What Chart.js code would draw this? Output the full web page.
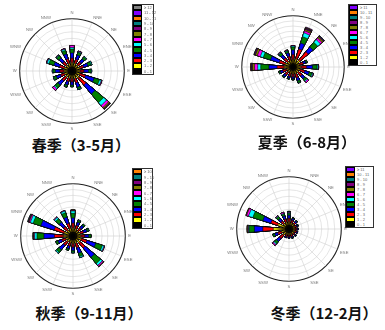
<!DOCTYPE html>
<html>
<head>
<meta charset="utf-8">
<script src="https://cdn.jsdelivr.net/npm/chart.js@4.4.1/dist/chart.umd.min.js"></script>
<style>
  html, body { margin: 0; padding: 0; background: #fff; }
  body { position: relative; width: 385px; height: 330px; overflow: hidden; }
  canvas { position: absolute; }
  .cap { position: absolute; font-family: "Noto Sans CJK SC", sans-serif; font-weight: bold;
         font-size: 15px; line-height: 1; white-space: nowrap; color: #111;
         transform: translate(-50%, -50%); }
  .legend { position: absolute; border: 1px solid #333; background: #fff; box-sizing: border-box; }
  .legend .row { display: flex; align-items: stretch; }
  .legend .sw { width: 9px; border: 0.5px solid #000; box-sizing: border-box; flex: none; }
  .legend .tx { font: 4px "Liberation Sans", Arial, sans-serif; color: #666; margin-left: 2px;
                display: flex; align-items: center; white-space: nowrap; }
</style>
</head>
<body>
<script>
// 16-point compass, clockwise from north; every rose has one bar per direction
const compass = ['N','NNE','NE','ENE','E','ESE','SE','SSE','S','SSW','SW','WSW','W','WNW','NW','NNW'];

// colours of the wind-speed classes (m/s), slowest first
const speedColors = ['#000000','#ffff00','#ff0000','#0000ff','#008000','#00ffff','#ff00ff',
                     '#808000','#800080','#008080','#ff8000','#8000ff','#808080'];

// ---------- spring (Mar-May): frequency % per direction, one array per speed class ----------
//                 N    NNE  NE   ENE  E    ESE  SE   SSE  S    SSW  SW   WSW  W    WNW  NW   NNW
const springClasses = ['0 - 1','1 - 2','2 - 3','3 - 4','4 - 5','5 - 6','6 - 7','7 - 8','8 - 9','9 - 10','10 - 11','11 - 12','≥ 12'];
const spr0  = [0.65,0.65,0.65,0.65,0.65,0.65,0.65,0.65,0.65,0.65,0.65,0.65,0.65,0.65,0.65,0.65];
const spr1  = [0.6, 0.6, 0.55,0.6, 0.55,0.6, 0.75,0.55,0.5, 0.5, 0.6, 0.55,0.55,0.6, 0.55,0.6];
const spr2  = [0.7, 0.6, 0.6, 0.6, 0.6, 0.9, 1.4, 0.7, 0.5, 0.55,0.7, 0.6, 0.65,0.75,0.65,0.7];
const spr3  = [0.8, 0.7, 0.6, 0.7, 0.7, 1.4, 1.8, 0.7, 0.5, 0.55,0.85,0.7, 0.7, 0.9, 0.75,0.8];
const spr4  = [0.6, 0.45,0.4, 0.5, 0.4, 0.85,1.7, 0.3, 0.25,0.3, 0.6, 0.4, 0.35,0.8, 0.45,0.55];
const spr5  = [0.25,0.1, 0.1, 0.15,0.1, 0.3, 0.6, 0.1, 0,   0.05,0.2, 0.1, 0.1, 0.3, 0.1, 0.2];
const spr6  = [0.3, 0.1, 0,   0,   0,   0.1, 0.4, 0,   0,   0,   0.3, 0,   0,   0.1, 0.05,0.1];
const spr7  = [0,   0,   0,   0,   0,   0,   0.2, 0,   0,   0,   0,   0,   0,   0,   0,   0];
const spr8  = [0,   0,   0,   0,   0,   0,   0.1, 0,   0,   0,   0,   0,   0,   0,   0,   0];
const spr9  = [0,   0,   0,   0,   0,   0,   0.05,0,   0,   0,   0,   0,   0,   0,   0,   0];
const spr10 = [0,   0,   0,   0,   0,   0,   0,   0,   0,   0,   0,   0,   0,   0,   0,   0];
const spr11 = [0,   0,   0,   0,   0,   0,   0,   0,   0,   0,   0,   0,   0,   0,   0,   0];
const spr12 = [0,   0,   0,   0,   0,   0,   0,   0,   0,   0,   0,   0,   0,   0,   0,   0];

// ---------- summer (Jun-Aug) ----------
const summerClasses = ['0 - 1','1 - 2','2 - 3','3 - 4','4 - 5','5 - 6','6 - 7','7 - 8','8 - 9','9 - 10','10 - 11','≥ 11'];
const sum0  = [0.7, 0.7, 0.7, 0.7, 0.7, 0.7, 0.7, 0.7, 0.7, 0.7, 0.7, 0.7, 0.7, 0.7, 0.7, 0.7];
const sum1  = [0.7, 1.0, 1.0, 0.6, 0.8, 0.7, 0.7, 0.7, 0.6, 0.6, 0.6, 0.6, 1.0, 0.9, 0.7, 0.7];
const sum2  = [1.0, 2.0, 2.2, 0.8, 1.1, 1.0, 0.9, 0.8, 0.6, 0.6, 0.7, 0.8, 1.4, 1.2, 0.9, 0.8];
const sum3  = [0.9, 1.2, 1.2, 0.5, 1.2, 0.9, 0.7, 0.6, 0.4, 0.4, 0.5, 0.5, 1.6, 1.8, 0.8, 0.7];
const sum4  = [0.6, 1.3, 1.2, 0.3, 0.9, 0.6, 0.5, 0.4, 0.2, 0.2, 0.2, 0.3, 1.6, 1.5, 0.5, 0.4];
const sum5  = [0.2, 0.8, 0.7, 0,   0.2, 0.2, 0.2, 0.1, 0,   0,   0,   0,   0.6, 0.6, 0.1, 0.1];
const sum6  = [0.1, 0.4, 0.4, 0,   0.1, 0.1, 0.3, 0,   0,   0,   0,   0,   0.6, 0.6, 0.1, 0.1];
const sum7  = [0,   0.3, 0.3, 0,   0,   0,   0,   0,   0,   0,   0,   0,   0.4, 0.4, 0,   0];
const sum8  = [0,   0.2, 0.2, 0,   0,   0,   0,   0,   0,   0,   0,   0,   0.2, 0.2, 0,   0];
const sum9  = [0,   0.1, 0.1, 0,   0,   0,   0,   0,   0,   0,   0,   0,   0.1, 0.1, 0,   0];
const sum10 = [0,   0.1, 0,   0,   0,   0,   0,   0,   0,   0,   0,   0,   0.1, 0,   0,   0];
const sum11 = [0,   0.1, 0,   0,   0,   0,   0,   0,   0,   0,   0,   0,   0,   0,   0,   0];

// ---------- autumn (Sep-Nov) ----------
const autumnClasses = ['0 - 1','1 - 2','2 - 3','3 - 4','4 - 5','5 - 6','6 - 7','7 - 8','8 - 9','9 - 10','≥ 10'];
const aut0  = [0.7, 0.7, 0.7, 0.7, 0.7, 0.7, 0.7, 0.7, 0.7, 0.7, 0.7, 0.7, 0.7, 0.7, 0.7, 0.7];
const aut1  = [0.7, 0.6, 0.5, 0.6, 0.6, 0.8, 0.8, 0.6, 0.6, 0.5, 0.6, 0.6, 0.9, 0.9, 0.6, 0.7];
const aut2  = [0.8, 0.6, 0.6, 0.6, 0.7, 1.0, 1.2, 0.8, 0.6, 0.6, 0.8, 0.7, 1.6, 1.8, 0.8, 0.9];
const aut3  = [0.9, 0.6, 0.6, 0.6, 0.7, 1.6, 2.1, 1.0, 0.6, 0.5, 1.0, 0.7, 1.8, 2.4, 1.0, 1.1];
const aut4  = [0.8, 0.3, 0.3, 0.3, 0.4, 1.2, 1.4, 0.6, 0.3, 0.3, 0.6, 0.4, 1.2, 1.4, 0.8, 0.8];
const aut5  = [0.4, 0.1, 0,   0.1, 0,   0.3, 0.4, 0.2, 0.1, 0,   0.2, 0,   0.4, 0.5, 0.3, 0.3];
const aut6  = [0.1, 0,   0,   0,   0,   0.1, 0.2, 0,   0,   0,   0,   0,   0.1, 0.2, 0.1, 0.1];
const aut7  = [0.1, 0,   0,   0,   0,   0,   0.1, 0,   0,   0,   0,   0,   0.1, 0.1, 0,   0];
const aut8  = [0,   0,   0,   0,   0,   0,   0,   0,   0,   0,   0,   0,   0.1, 0.1, 0,   0];
const aut9  = [0,   0,   0,   0,   0,   0,   0,   0,   0,   0,   0,   0,   0,   0.1, 0,   0];
const aut10 = [0,   0,   0,   0,   0,   0,   0,   0,   0,   0,   0,   0,   0,   0,   0,   0];

// ---------- winter (Dec-Feb) ----------
const winterClasses = ['0 - 1','1 - 2','2 - 3','3 - 4','4 - 5','5 - 6','6 - 7','7 - 8','8 - 9','9 - 10','10 - 11','≥ 11'];
const win0  = [0.6, 0.6, 0.6, 0.6, 0.6, 0.6, 0.6, 0.6, 0.6, 0.6, 0.6, 0.6, 0.6, 0.6, 0.6, 0.6];
const win1  = [0.5, 0.4, 0.4, 0.3, 0.3, 0.3, 0.3, 0.3, 0.3, 0.3, 0.6, 0.6, 1.8, 1.2, 0.5, 0.5];
const win2  = [0.5, 0.4, 0.3, 0.3, 0.3, 0.3, 0.3, 0.3, 0.3, 0.3, 0.7, 0.6, 1.6, 1.1, 0.5, 0.5];
const win3  = [0.5, 0.3, 0.3, 0.2, 0.2, 0.2, 0.2, 0.2, 0.2, 0.2, 0.6, 0.5, 1.3, 1.3, 0.5, 0.5];
const win4  = [0.3, 0.1, 0.1, 0.1, 0,   0,   0.1, 0.1, 0,   0,   0.4, 0.3, 0.8, 1.6, 0.4, 0.3];
const win5  = [0.1, 0,   0,   0,   0,   0,   0,   0,   0,   0,   0.2, 0,   0.1, 0.7, 0.1, 0.1];
const win6  = [0.1, 0,   0,   0,   0,   0,   0,   0,   0,   0,   0.2, 0,   0.1, 0.3, 0.1, 0.2];
const win7  = [0,   0,   0,   0,   0,   0,   0,   0,   0,   0,   0,   0,   0.1, 0.1, 0,   0];
const win8  = [0,   0,   0,   0,   0,   0,   0,   0,   0,   0,   0,   0,   0,   0,   0,   0];
const win9  = [0.1, 0,   0,   0,   0,   0,   0,   0,   0,   0,   0,   0,   0,   0,   0,   0];
const win10 = [0,   0,   0,   0,   0,   0,   0,   0,   0,   0,   0,   0,   0,   0,   0,   0];
const win11 = [0,   0,   0,   0,   0,   0,   0,   0,   0,   0,   0,   0,   0,   0,   0,   0];

// ---------- rose geometry ----------
const BAR_DEG = 10;                // angular width of one direction bar
const GAP_DEG = 12.5;              // empty wedge between neighbouring bars (BAR + GAP = 22.5)
const START_DEG = -BAR_DEG / 2;    // first bar centred on north
const LABEL_STEP = 0.5;            // angular resolution of the label ring

// label ring: a compass name wherever a 22.5° direction falls, blank elsewhere
const ringLabels = [];
for (let i = 0; i < 360 / LABEL_STEP; i++) {
  const a = i * LABEL_STEP + START_DEG;
  const j = a / 22.5;
  ringLabels.push(a >= 0 && Number.isInteger(j) ? compass[j] : '');
}

function buildRose(cfg) {
  const canvas = document.createElement('canvas');
  canvas.width = cfg.size;
  canvas.height = cfg.size;
  document.body.appendChild(canvas);

  // stacked rose: each class drawn out to the running total of all slower classes
  let running = cfg.series[0].map(() => 0);
  const datasets = cfg.series.map((arr, k) => {
    running = running.map((v, i) => v + arr[i]);
    return {
      label: cfg.classes[k],
      data: running.flatMap(v => [v, 0]),
      backgroundColor: speedColors[k],
      borderColor: '#000',
      borderWidth: ctx => (ctx.dataIndex % 2 ? 0 : 0.6),
      angle: ctx => (ctx.dataIndex % 2 ? GAP_DEG : BAR_DEG)
    };
  });

  const chart = new Chart(canvas, {
    type: 'polarArea',
    data: { labels: ringLabels, datasets },
    options: {
      responsive: false,
      animation: false,
      events: [],
      plugins: { legend: { display: false }, tooltip: { enabled: false } },
      scales: {
        r: {
          min: 0,
          max: cfg.max,
          startAngle: START_DEG,
          ticks: { display: false, stepSize: 1 },
          grid: {
            circular: true,
            color: ctx => (ctx.tick && ctx.tick.value === cfg.max ? '#222' : '#d4d4d4'),
            lineWidth: ctx => (ctx.tick && ctx.tick.value === cfg.max ? 1.1 : 0.6)
          },
          angleLines: {
            display: true,
            color: '#cfcfcf',
            lineWidth: ctx => (ctx.label ? 0.6 : 0)
          },
          pointLabels: {
            display: true,
            padding: 3,
            color: '#777',
            font: { size: 4.2, family: 'Liberation Sans' }
          }
        }
      }
    }
  });

  const r = chart.scales.r;
  canvas.style.left = (cfg.cx - r.xCenter) + 'px';
  canvas.style.top = (cfg.cy - r.yCenter) + 'px';
  return chart;
}

function buildLegend(cfg) {
  const box = document.createElement('div');
  box.className = 'legend';
  Object.assign(box.style, { left: cfg.x + 'px', top: cfg.y + 'px', width: cfg.w + 'px', height: cfg.h + 'px' });
  const rowH = (cfg.h - 2) / cfg.classes.length;
  for (let k = cfg.classes.length - 1; k >= 0; k--) {
    const row = document.createElement('div');
    row.className = 'row';
    row.style.height = rowH + 'px';
    const sw = document.createElement('div');
    sw.className = 'sw';
    sw.style.background = speedColors[k];
    const tx = document.createElement('div');
    tx.className = 'tx';
    tx.textContent = cfg.classes[k];
    row.appendChild(sw);
    row.appendChild(tx);
    box.appendChild(row);
  }
  document.body.appendChild(box);
}

function caption(text, cx, cy) {
  const d = document.createElement('div');
  d.className = 'cap';
  d.textContent = text;
  d.style.left = cx + 'px';
  d.style.top = cy + 'px';
  document.body.appendChild(d);
}

buildRose({ size: 124, cx: 72, cy: 71, max: 8, classes: springClasses,
  series: [spr0,spr1,spr2,spr3,spr4,spr5,spr6,spr7,spr8,spr9,spr10,spr11,spr12] });
buildRose({ size: 122, cx: 293, cy: 67, max: 10, classes: summerClasses,
  series: [sum0,sum1,sum2,sum3,sum4,sum5,sum6,sum7,sum8,sum9,sum10,sum11] });
buildRose({ size: 124, cx: 73, cy: 236, max: 9, classes: autumnClasses,
  series: [aut0,aut1,aut2,aut3,aut4,aut5,aut6,aut7,aut8,aut9,aut10] });
buildRose({ size: 124, cx: 289, cy: 229, max: 8, classes: winterClasses,
  series: [win0,win1,win2,win3,win4,win5,win6,win7,win8,win9,win10,win11] });

buildLegend({ x: 132, y: 4, w: 22, h: 71, classes: springClasses });
buildLegend({ x: 348, y: 4, w: 29, h: 62, classes: summerClasses });
buildLegend({ x: 132, y: 168, w: 21, h: 61, classes: autumnClasses });
buildLegend({ x: 345, y: 166, w: 29, h: 62, classes: winterClasses });

caption('春季（3-5月）', 81, 144);
caption('夏季（6-8月）', 307, 141);
caption('秋季（9-11月）', 89, 312);
caption('冬季（12-2月）', 324, 312);
</script>
</body>
</html>
